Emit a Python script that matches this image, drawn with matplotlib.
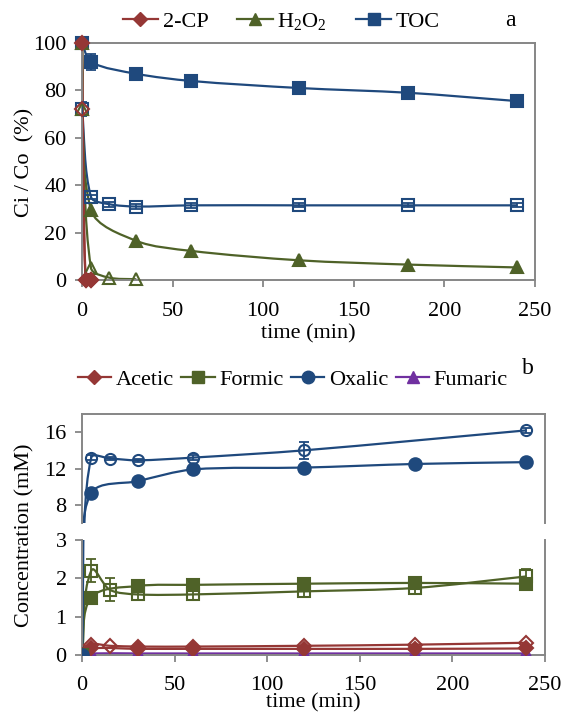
import matplotlib

matplotlib.use("Agg")
import matplotlib.pyplot as plt
import numpy as np
from matplotlib.lines import Line2D
from matplotlib.patches import PathPatch
from matplotlib.path import Path

plt.rcParams["font.family"] = ["Liberation Serif", "DejaVu Serif"]
plt.rcParams["mathtext.default"] = "regular"

RED = "#953735"
GREEN = "#4f6228"
BLUE = "#1f497d"
PURPLE = "#7030a0"
GRAY = "#868686"
FS = 16

# ---- panel a: Ci/Co (%) ----
t_a_filled = [0, 5, 30, 60, 120, 180, 240]
toc_filled = [100, 92, 87, 84, 81, 79, 75.5]
toc_filled_err = [0, 3.5, 2.5, 1, 0.8, 1, 2]
t_a_open = [0, 5, 15, 30, 60, 120, 180, 240]
toc_open = [72, 35, 32, 31, 31.5, 31.5, 31.5, 31.5]
toc_open_err = [3, 1, 1, 1, 1, 0.8, 0.8, 0.8]
t_h2o2_filled = [0, 5, 30, 60, 120, 180, 240]
h2o2_filled = [100, 29.5, 16.5, 12.3, 8.3, 6.5, 5.3]
t_h2o2_open = [0, 5, 15, 30]
h2o2_open = [72, 5, 1, 0.3]
t_cp = [0, 2, 5]
cp_filled = [100, 0, 0]
cp_open = [72, 0, 0]

# ---- panel b: concentration (mM) ----
t_b_filled = [0, 5, 30, 60, 120, 180, 240]
t_b_open = [0, 5, 15, 30, 60, 120, 180, 240]
t_ox_open = [0, 5, 15, 30, 60, 120, 240]
oxalic_filled = [0, 9.3, 10.6, 11.9, 12.1, 12.5, 12.7]
oxalic_open = [0, 13.2, 13.1, 12.9, 13.2, 14.0, 16.2]
oxalic_open_err = [0, 0.3, 0.2, 0.2, 0.3, 0.9, 0.3]
formic_filled = [0, 1.5, 1.8, 1.83, 1.86, 1.88, 1.86]
formic_open = [0, 2.2, 1.7, 1.58, 1.58, 1.66, 1.75, 2.05]
formic_open_err = [0, 0.3, 0.3, 0.15, 0.15, 0.15, 0.15, 0.2]
acetic_filled = [0, 0.17, 0.16, 0.16, 0.16, 0.16, 0.17]
acetic_open = [0, 0.27, 0.24, 0.22, 0.22, 0.24, 0.27, 0.32]
fumaric = [0, 0.04, 0.04, 0.04, 0.04, 0.04, 0.04]


def smooth(ax, x, y, color, lw=1.6):
    """Excel-style smoothed line: cubic Bezier through the points, in screen space."""
    pts = ax.transData.transform(np.column_stack([x, y]))
    n = len(pts)

    def tangent(i):
        d = pts[min(i + 1, n - 1)] - pts[max(i - 1, 0)]
        norm = np.hypot(*d)
        return d / norm if norm > 0 else d

    verts = [pts[0]]
    codes = [Path.MOVETO]
    for i in range(n - 1):
        p1, p2 = pts[i], pts[i + 1]
        seg = np.hypot(*(p2 - p1)) * 0.3
        verts += [p1 + tangent(i) * seg, p2 - tangent(i + 1) * seg, p2]
        codes += [Path.CURVE4] * 3
    path = Path(ax.transData.inverted().transform(np.array(verts)), codes)
    ax.add_patch(PathPatch(path, fill=False, edgecolor=color, lw=lw, zorder=2))


def series(ax, x, y, color, marker, ms, filled=True, err=None):
    smooth(ax, x, y, color)
    if err is not None:
        e = np.array(err, dtype=float)
        keep = e > 0
        ax.errorbar(np.array(x)[keep], np.array(y)[keep], yerr=e[keep], fmt="none",
                    ecolor=color, elinewidth=1.3, capsize=3.5, capthick=1.3, zorder=3)
    ax.plot(x, y, ls="none", marker=marker, ms=ms, color=color, mec=color,
            mfc=color if filled else "none", mew=1.5, clip_on=False, zorder=4)


def style(ax, bottom=True, top=True):
    for s in ax.spines.values():
        s.set_color(GRAY)
        s.set_linewidth(1.4)
    ax.spines["top"].set_visible(top)
    ax.spines["bottom"].set_visible(bottom)
    ax.tick_params(direction="out", length=5, width=1.3, color=GRAY, labelsize=FS,
                   right=False, top=False)
    ax.tick_params(axis="y", pad=6)
    ax.set_xlim(0, 250)


fig = plt.figure(figsize=(5.64, 7.17), dpi=100)
W, H = 564, 717


def box(left, top, right, bottom):
    return [left / W, 1 - bottom / H, (right - left) / W, (bottom - top) / H]


# ---------- panel a ----------
ax = fig.add_axes(box(82, 43, 535, 280))
ax.set_ylim(0, 100)
style(ax)
ax.set_yticks(range(0, 101, 20))
ax.set_xticks(range(0, 251, 50))
ax.tick_params(axis="x", pad=11)

series(ax, t_a_open, toc_open, BLUE, "s", 8, filled=False, err=toc_open_err)
series(ax, t_h2o2_open, h2o2_open, GREEN, "^", 9, filled=False)
series(ax, t_cp, cp_open, RED, "D", 7, filled=False)
series(ax, t_a_filled, toc_filled, BLUE, "s", 8, err=toc_filled_err)
series(ax, t_h2o2_filled, h2o2_filled, GREEN, "^", 9)
series(ax, t_cp, cp_filled, RED, "D", 7)

ax.set_xlabel("time (min)", fontsize=FS, labelpad=2)
fig.text(25 / W, 1 - 162 / H, "Ci / Co  (%)", fontsize=FS, rotation=90,
         ha="center", va="center")

handles_a = [
    Line2D([], [], color=RED, marker="D", ms=7, lw=1.6),
    Line2D([], [], color=GREEN, marker="^", ms=9, lw=1.6),
    Line2D([], [], color=BLUE, marker="s", ms=8, lw=1.6),
]
ax.legend(handles_a, ["2-CP", "H$_2$O$_2$", "TOC"], loc="lower center",
          bbox_to_anchor=(0.44, 1.0), ncol=3, frameon=False, fontsize=FS,
          handlelength=1.6, handletextpad=0.2, columnspacing=1.3, borderaxespad=0.1)
fig.text(510 / W, 1 - 20 / H, "a", fontsize=FS + 1, ha="center", va="center")

# ---------- panel b (broken y axis) ----------
ax_up = fig.add_axes(box(82, 414, 545, 523))
ax_lo = fig.add_axes(box(82, 540, 545, 655))
ax_up.set_ylim(6, 18)
ax_lo.set_ylim(0, 3)
style(ax_up, bottom=False)
style(ax_lo, top=False)
ax_up.set_yticks([8, 12, 16])
ax_up.set_xticks([])
ax_lo.set_yticks([0, 1, 2, 3])
ax_lo.set_xticks(range(0, 251, 50))
ax_lo.tick_params(axis="x", pad=10)

for a in (ax_up, ax_lo):
    series(a, t_b_filled, fumaric, PURPLE, "^", 9)
    series(a, t_b_open, acetic_open, RED, "D", 7, filled=False)
    series(a, t_b_filled, acetic_filled, RED, "D", 7)
    series(a, t_b_open, formic_open, GREEN, "s", 8, filled=False, err=formic_open_err)
    series(a, t_b_filled, formic_filled, GREEN, "s", 8)
    series(a, t_ox_open, oxalic_open, BLUE, "o", 8, filled=False, err=oxalic_open_err)
    series(a, t_b_filled, oxalic_filled, BLUE, "o", 9)
    for ln in a.lines:
        ln.set_clip_on(True)

ax_lo.set_xlabel("time (min)", fontsize=FS, labelpad=-1)
fig.text(25 / W, 1 - 535 / H, "Concentration (mM)", fontsize=FS, rotation=90,
         ha="center", va="center")

handles_b = [
    Line2D([], [], color=RED, marker="D", ms=7, lw=1.6),
    Line2D([], [], color=GREEN, marker="s", ms=8, lw=1.6),
    Line2D([], [], color=BLUE, marker="o", ms=9, lw=1.6),
    Line2D([], [], color=PURPLE, marker="^", ms=9, lw=1.6),
]
ax_up.legend(handles_b, ["Acetic", "Formic", "Oxalic", "Fumaric"], loc="lower center",
             bbox_to_anchor=(0.455, 1.12), ncol=4, frameon=False, fontsize=FS,
             handlelength=1.5, handletextpad=0.2, columnspacing=0.35, borderaxespad=0.1)
fig.text(528 / W, 1 - 368 / H, "b", fontsize=FS + 1, ha="center", va="center")

fig.savefig("out.png", dpi=100)
